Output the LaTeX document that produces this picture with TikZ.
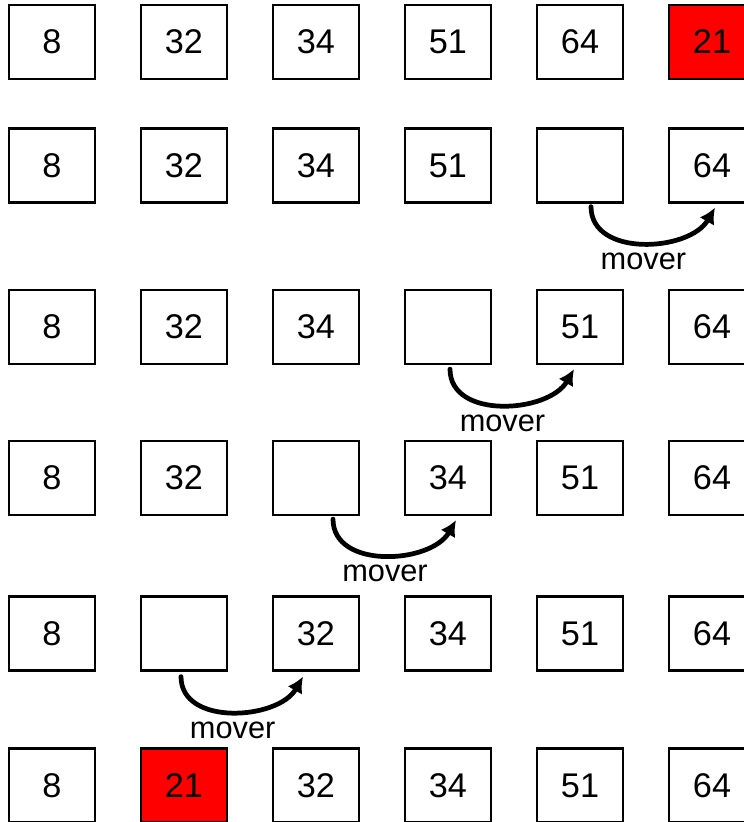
\documentclass[tikz,border=0pt]{standalone}
\usepackage{fontspec}
\setmainfont{Liberation Sans}
\usetikzlibrary{arrows.meta}
\begin{document}
\begin{tikzpicture}[x=0.02cm,y=-0.02cm,
  cell/.style={draw,line width=1.3pt,minimum width=1.72cm,minimum height=1.48cm,
    inner sep=0pt,font=\fontsize{19.5}{22}\selectfont},
  hot/.style={cell,fill=red},
  move/.style={line width=2.7pt,line cap=round,looseness=1.05,
    -{Latex[length=9pt,width=9.5pt]}},
  movelabel/.style={below=3.5pt,inner sep=1pt,font=\fontsize{17.5}{20}\selectfont}]
  \useasboundingbox (0,0) rectangle (744,822);
  % rows of the array, one per step
  \foreach \v [count=\i] in {8,32,34,51,64}
    \node[cell] (a\i) at ({52+132*(\i-1)},42) {\v};
  \node[hot] (a6) at (712,42) {21};
  \foreach \v [count=\i] in {8,32,34,51,{},64}
    \node[cell] (b\i) at ({52+132*(\i-1)},165.5) {\v};
  \foreach \v [count=\i] in {8,32,34,{},51,64}
    \node[cell] (c\i) at ({52+132*(\i-1)},327) {\v};
  \foreach \v [count=\i] in {8,32,{},34,51,64}
    \node[cell] (d\i) at ({52+132*(\i-1)},478) {\v};
  \foreach \v [count=\i] in {8,{},32,34,51,64}
    \node[cell] (e\i) at ({52+132*(\i-1)},633.5) {\v};
  \foreach \v [count=\i] in {8,21,32,34,51,64}
    \node[cell] (f\i) at ({52+132*(\i-1)},785.5) {\v};
  \node[hot] at (f2) {21};
  % shifts
  \draw[move] ([xshift=0.22cm,yshift=-0.06cm]b5.south) to[out=-90,in=-120]
    node[movelabel] (mb) {mover} ([xshift=0.06cm,yshift=-0.08cm]b6.south);
  \draw[move] ([xshift=0.04cm,yshift=-0.08cm]c4.south) to[out=-90,in=-120]
    node[movelabel] (mc) {mover} ([xshift=-0.12cm,yshift=-0.08cm]c5.south);
  \draw[move] ([xshift=0.34cm,yshift=-0.06cm]d3.south) to[out=-90,in=-120]
    node[movelabel] (md) {mover} ([xshift=0.16cm,yshift=-0.08cm]d4.south);
  \draw[move] ([xshift=-0.06cm,yshift=-0.1cm]e2.south) to[out=-90,in=-120]
    node[movelabel] (me) {mover} ([xshift=-0.26cm,yshift=-0.1cm]e3.south);
\end{tikzpicture}
\end{document}
